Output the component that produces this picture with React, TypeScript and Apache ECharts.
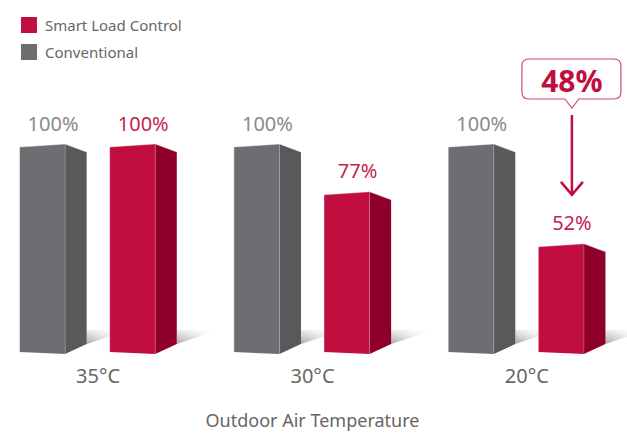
import React, { useEffect, useRef } from "react";
import * as echarts from "echarts";

const categories = ["35°C", "30°C", "20°C"];
const conventional = [100, 100, 100];
const smartLoad = [100, 77, 52];
const seriesNames = ["Conventional", "Smart Load Control"];
const axisName = "Outdoor Air Temperature";

const FONT = "'Noto Sans', 'Open Sans', sans-serif";
const SHIFT = 9;

export default function App() {
  const ref = useRef<HTMLDivElement>(null);
  useEffect(() => {
    document.body.style.margin = "0";
    document.body.style.overflow = "hidden";
    if (!ref.current) return;
    const chart = echarts.init(ref.current, null, { renderer: "svg" });

    const palette = [
      { front: "#6d6e71", side: "#58595b", label: "#8a8a8a", edge: "rgba(255,255,255,0.45)" },
      { front: "#c20d40", side: "#8e0029", label: "#c41f4c", edge: "rgba(255,255,255,0.35)" },
    ];

    const makeRender = (si: number) => (params: any, api: any) => {
      const idx = api.value(0);
      const v = api.value(1);
      const [cx, yTop] = api.coord([idx, v]);
      const yBot = api.coord([idx, 0])[1];
      const W = api.size([1, 0])[0];
      const s = W / 214;
      const off = si === 0 ? -78.5 : 11.5;
      const x0 = cx + off * s;
      const x1 = x0 + 45.5 * s;
      const x2 = x1 + 21.5 * s;
      const c = palette[si];
      const mid = (x0 + x2) / 2;
      const children: any[] = [
        {
          type: "polygon",
          shape: { points: [[x2, yBot - 9], [x2, yBot - 23], [x2 + 42 * s, yBot - 23]] },
          style: {
            fill: new echarts.graphic.LinearGradient(0, 1, 1, 0, [
              { offset: 0, color: "rgba(90,90,90,0.55)" },
              { offset: 0.6, color: "rgba(160,160,160,0.15)" },
              { offset: 1, color: "rgba(255,255,255,0)" },
            ]),
          },
        },
        {
          type: "polygon",
          shape: { points: [[x0, yTop + 2], [x1, yTop - 1], [x1, yBot + 1], [x0, yBot - 1]] },
          style: { fill: c.front },
        },
        {
          type: "polygon",
          shape: { points: [[x1, yTop - 1], [x2, yTop + 7], [x2, yBot - 9], [x1, yBot + 1]] },
          style: { fill: c.side },
        },
        {
          type: "polyline",
          shape: { points: [[x0, yBot - 1], [x0, yTop + 2], [x1, yTop - 1], [x2, yTop + 7]] },
          style: { stroke: c.edge, lineWidth: 1, fill: null },
        },
        {
          type: "line",
          shape: { x1: x1, y1: yTop - 1, x2: x1, y2: yBot + 1 },
          style: { stroke: "rgba(255,255,255,0.2)", lineWidth: 1 },
        },
        {
          type: "text",
          style: {
            text: v + "%",
            x: mid,
            y: yTop - 22,
            fill: c.label,
            fontSize: 20,
            fontFamily: FONT,
            align: "center",
            verticalAlign: "middle",
          },
        },
      ];

      if (si === 1 && idx === smartLoad.length - 1) {
        const ref100 = api.coord([idx, conventional[idx]])[1];
        const diff = conventional[idx] - v;
        const L = mid - 50;
        const R = mid + 49;
        const T = ref100 - 86;
        const B = ref100 - 46;
        const r = 7;
        const d =
          `M${L + r} ${T} H${R - r} Q${R} ${T} ${R} ${T + r} V${B - r} Q${R} ${B} ${R - r} ${B} ` +
          `H${mid + 7} L${mid} ${B + 9} L${mid - 7} ${B} H${L + r} Q${L} ${B} ${L} ${B - r} ` +
          `V${T + r} Q${L} ${T} ${L + r} ${T} Z`;
        children.push(
          {
            type: "path",
            shape: { pathData: d },
            style: { fill: "#ffffff", stroke: "#d14a6d", lineWidth: 1.2 },
          },
          {
            type: "text",
            style: {
              text: diff + "%",
              x: mid,
              y: (T + B) / 2 + 1,
              fill: "#c20d40",
              fontSize: 30,
              fontWeight: "bold",
              fontFamily: FONT,
              align: "center",
              verticalAlign: "middle",
            },
          },
          {
            type: "line",
            shape: { x1: mid, y1: ref100 - 30, x2: mid, y2: yTop - 50 },
            style: { stroke: "#c20d40", lineWidth: 2.5 },
          },
          {
            type: "polyline",
            shape: { points: [[mid - 11, yTop - 63], [mid, yTop - 50], [mid + 11, yTop - 63]] },
            style: { stroke: "#c20d40", lineWidth: 2.5, fill: null },
          }
        );
      }
      return { type: "group", children };
    };

    chart.setOption({
      animation: false,
      legend: {
        data: [seriesNames[1], seriesNames[0]],
        orient: "vertical",
        left: 21 + SHIFT,
        top: 17,
        itemWidth: 16,
        itemHeight: 16,
        itemGap: 11,
        icon: "rect",
        padding: 0,
        selectedMode: false,
        textStyle: { fontSize: 15, color: "#666666", fontFamily: FONT, padding: [0, 0, 0, 3] },
      },
      grid: { left: 0, right: 0, top: 145, bottom: 81 },
      xAxis: {
        type: "category",
        data: categories,
        axisLine: { show: false },
        axisTick: { show: false },
        axisLabel: { fontSize: 20, color: "#666666", fontFamily: FONT, margin: 12 },
        name: axisName,
        nameLocation: "middle",
        nameGap: 58,
        nameTextStyle: { fontSize: 18, color: "#666666", fontFamily: FONT },
      },
      yAxis: { type: "value", min: 0, max: 100, show: false },
      series: [
        {
          type: "custom",
          name: seriesNames[0],
          itemStyle: { color: palette[0].front },
          renderItem: makeRender(0),
          encode: { x: 0, y: 1 },
          data: conventional.map((v, i) => [i, v]),
          clip: false,
        },
        {
          type: "custom",
          name: seriesNames[1],
          itemStyle: { color: palette[1].front },
          renderItem: makeRender(1),
          encode: { x: 0, y: 1 },
          data: smartLoad.map((v, i) => [i, v]),
          clip: false,
        },
      ],
    });
    return () => chart.dispose();
  }, []);
  return (
    <div style={{ width: 627, height: 434, overflow: "hidden", position: "relative" }}>
      <div ref={ref} style={{ width: 643, height: 434, marginLeft: -SHIFT }} />
    </div>
  );
}
